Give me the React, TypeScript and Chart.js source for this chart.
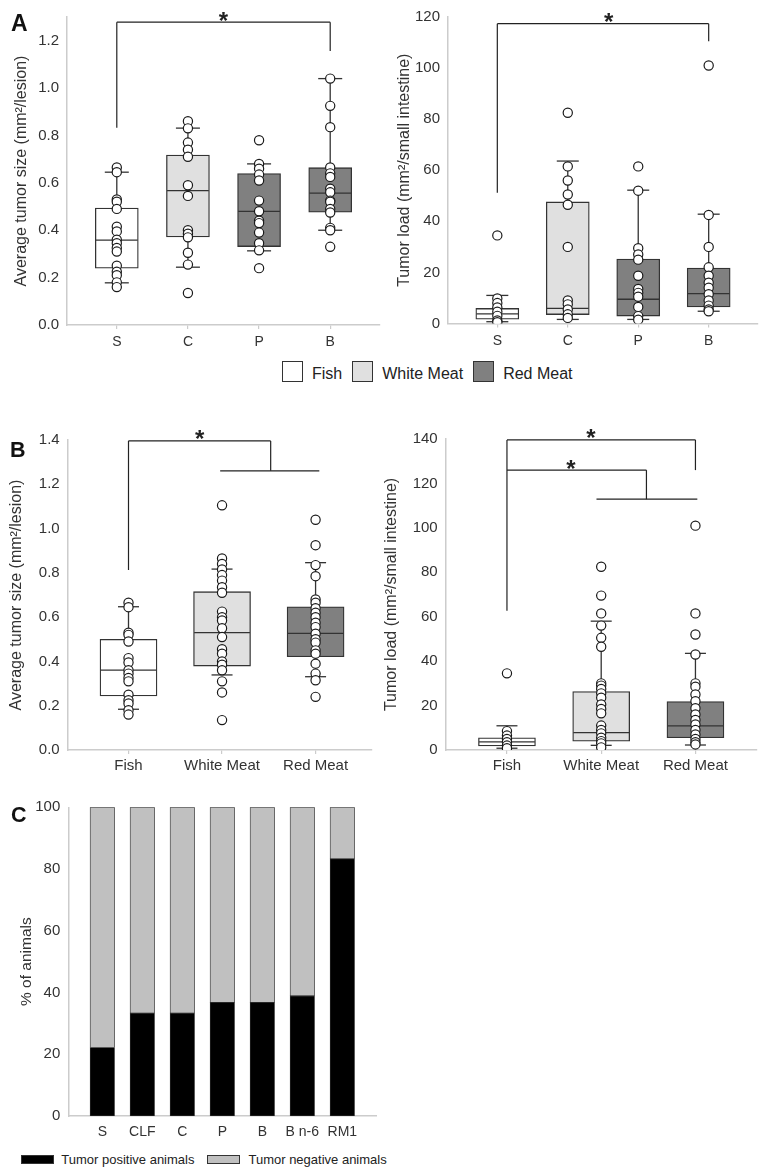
import React, { useEffect, useRef } from 'react';
import { Chart, registerables } from 'chart.js';
Chart.register(...registerables);

const FONT = '"Liberation Sans", Arial, Helvetica, sans-serif';
const TEXT = '#333333';
const AXIS = '#cccccc';
const LINE = '#333333';

// ---------------- Panel A data ----------------
const catsA = ['S', 'C', 'P', 'B'];
const colorsA = ['#ffffff', '#e0e0e0', '#808080', '#808080'];

const sizeA_S = [0.665, 0.645, 0.53, 0.52, 0.49, 0.415, 0.395, 0.36, 0.345, 0.325, 0.31, 0.25, 0.225, 0.21, 0.18, 0.16];
const sizeA_C = [0.86, 0.83, 0.77, 0.74, 0.71, 0.59, 0.545, 0.4, 0.385, 0.37, 0.305, 0.255, 0.135];
const sizeA_P = [0.78, 0.68, 0.66, 0.635, 0.61, 0.525, 0.48, 0.44, 0.43, 0.39, 0.345, 0.315, 0.24];
const sizeA_B = [1.04, 0.925, 0.835, 0.665, 0.64, 0.625, 0.575, 0.56, 0.525, 0.52, 0.49, 0.475, 0.41, 0.4, 0.33];
const sizeA_q1 = [0.24, 0.372, 0.331, 0.476];
const sizeA_med = [0.358, 0.567, 0.48, 0.557];
const sizeA_q3 = [0.494, 0.717, 0.639, 0.664];
const sizeA_lo = [0.178, 0.244, 0.313, 0.4];
const sizeA_hi = [0.645, 0.831, 0.68, 1.04];
const sizeA_ticks = [0, 0.2, 0.4, 0.6, 0.8, 1.0, 1.2];

const loadA_S = [34.5, 9.8, 8, 6.3, 4.6, 3, 1.2, 0.5];
const loadA_C = [82.5, 61.5, 56, 50.5, 46.5, 30, 9, 7.5, 5.5, 3.6, 2.2];
const loadA_P = [61.5, 52, 29.5, 27, 25, 18.7, 13.5, 12, 10.5, 6.5, 2.9, 1.5];
const loadA_B = [101, 42.5, 30, 22, 18.7, 16, 14, 11.5, 9, 7, 5.5, 4.8];
const loadA_q1 = [1.7, 3.5, 2.9, 6.5];
const loadA_med = [3.8, 5.9, 9.5, 11.7];
const loadA_q3 = [5.9, 47.6, 25.2, 21.7];
const loadA_lo = [0.7, 1.6, 1.6, 4.8];
const loadA_hi = [11.0, 63.6, 52.2, 42.8];
const loadA_ticks = [0, 20, 40, 60, 80, 100, 120];

const legendA = ['Fish', 'White Meat', 'Red Meat'];
const legendColorsA = ['#ffffff', '#e0e0e0', '#808080'];

// ---------------- Panel B data ----------------
const catsB = ['Fish', 'White Meat', 'Red Meat'];
const colorsB = ['#ffffff', '#e0e0e0', '#808080'];

const sizeB_Fish = [0.665, 0.645, 0.53, 0.52, 0.49, 0.415, 0.395, 0.36, 0.345, 0.325, 0.31, 0.25, 0.225, 0.21, 0.18, 0.16];
const sizeB_WM = [1.105, 0.865, 0.84, 0.815, 0.79, 0.765, 0.735, 0.71, 0.625, 0.6, 0.585, 0.55, 0.51, 0.455, 0.435, 0.4, 0.385, 0.36, 0.31, 0.26, 0.135];
const sizeB_RM = [1.04, 0.925, 0.835, 0.785, 0.68, 0.665, 0.64, 0.62, 0.6, 0.575, 0.555, 0.525, 0.5, 0.485, 0.45, 0.435, 0.39, 0.345, 0.315, 0.24];
const sizeB_q1 = [0.244, 0.379, 0.421];
const sizeB_med = [0.361, 0.53, 0.527];
const sizeB_q3 = [0.5, 0.715, 0.647];
const sizeB_lo = [0.184, 0.339, 0.331];
const sizeB_hi = [0.647, 0.817, 0.846];
const sizeB_ticks = [0, 0.2, 0.4, 0.6, 0.8, 1.0, 1.2, 1.4];

const loadB_Fish = [34.5, 8.5, 6.5, 5, 3.5, 2, 0.8];
const loadB_WM = [82.5, 69.5, 61.5, 56, 50.5, 46.5, 30, 29, 27.5, 25.5, 23.5, 20.5, 18.5, 16.5, 11, 9, 7.5, 5.5, 4, 3, 1.2];
const loadB_RM = [101, 61.5, 52, 43, 30, 28.5, 25, 22, 18.8, 16, 13.5, 11.5, 9, 7, 5, 3.5, 2.5];
const loadB_q1 = [1.8, 4.0, 5.5];
const loadB_med = [3.7, 7.8, 10.9];
const loadB_q3 = [5.5, 26.3, 21.8];
const loadB_lo = [0.8, 2.1, 2.25];
const loadB_hi = [10.9, 58, 43.5];
const loadB_ticks = [0, 20, 40, 60, 80, 100, 120, 140];

// ---------------- Panel C data ----------------
const catsC = ['S', 'CLF', 'C', 'P', 'B', 'B n-6', 'RM1'];
const tumorPositive = [22.2, 33.3, 33.3, 36.8, 36.8, 38.9, 83.3];
const tumorNegative = [77.8, 66.7, 66.7, 63.2, 63.2, 61.1, 16.7];
const pctTicks = [0, 20, 40, 60, 80, 100];
const legendC = ['Tumor positive animals', 'Tumor negative animals'];

// ---------------- significance annotations (data coords) ----------------
const bracketsSizeA = [[1, 0.833, 1, 1.278], [1, 1.278, 4, 1.278], [4, 1.278, 4, 1.156]];
const starsSizeA = [[2.5, 1.278]];
const bracketsLoadA = [[1, 51.2, 1, 117.4], [1, 117.4, 4, 117.4], [4, 117.4, 4, 110.5]];
const starsLoadA = [[2.58, 117.4]];
const bracketsSizeB = [[1, 0.813, 1, 1.396], [1, 1.396, 2.52, 1.396], [2.52, 1.396, 2.52, 1.261], [1.98, 1.261, 3.04, 1.261]];
const starsSizeB = [[1.76, 1.396]];
const bracketsLoadB = [[1, 62.7, 1, 139.6], [1, 139.6, 3, 139.6], [3, 139.6, 3, 126], [1, 126, 2.48, 126], [2.48, 126, 2.48, 112.9], [1.95, 112.9, 3.02, 112.9]];
const starsLoadB = [[1.89, 139.6], [1.68, 126]];

type BoxSpec = {
  cats: string[];
  colors: string[];
  points: number[][];
  q1: number[]; med: number[]; q3: number[]; lo: number[]; hi: number[];
  yMax: number; yTicks: number[]; decimals: number;
  xMin: number; xMax: number;
  boxW: number; capW: number;
  yTitle: string;
  yAxisW: number; xAxisH: number; padTop: number; padRight: number; titlePad: number;
  xFont: number; xPad: number;
  segs: number[][]; stars: number[][];
};

function makeBoxPlugin(s: BoxSpec) {
  return {
    id: 'boxExtras',
    afterDatasetDraw(chart: any, args: any) {
      if (args.index !== 0) return;
      const { ctx } = chart;
      const x = chart.scales.x, y = chart.scales.y;
      const line = (x1: number, y1: number, x2: number, y2: number) => {
        ctx.beginPath(); ctx.moveTo(x1, y1); ctx.lineTo(x2, y2); ctx.stroke();
      };
      ctx.save();
      ctx.strokeStyle = LINE;
      ctx.lineWidth = 1.3;
      s.med.forEach((m, i) => {
        const cx = x.getPixelForValue(i + 1);
        const hw = s.boxW / 2 - 0.6, cw = s.capW / 2;
        const ym = y.getPixelForValue(m);
        line(cx - hw, ym, cx + hw, ym);
        const yq3 = y.getPixelForValue(s.q3[i]), yhi = y.getPixelForValue(s.hi[i]);
        const yq1 = y.getPixelForValue(s.q1[i]), ylo = y.getPixelForValue(s.lo[i]);
        line(cx, yq3, cx, yhi);
        line(cx, yq1, cx, ylo);
        line(cx - cw, yhi, cx + cw, yhi);
        line(cx - cw, ylo, cx + cw, ylo);
      });
      ctx.restore();
    },
    afterDraw(chart: any) {
      const { ctx } = chart;
      const x = chart.scales.x, y = chart.scales.y;
      ctx.save();
      ctx.strokeStyle = '#222222';
      ctx.lineWidth = 1.2;
      s.segs.forEach(([x1, y1, x2, y2]) => {
        ctx.beginPath();
        ctx.moveTo(x.getPixelForValue(x1), y.getPixelForValue(y1));
        ctx.lineTo(x.getPixelForValue(x2), y.getPixelForValue(y2));
        ctx.stroke();
      });
      ctx.fillStyle = '#222222';
      ctx.font = `bold 24px ${FONT}`;
      ctx.textAlign = 'center';
      ctx.textBaseline = 'alphabetic';
      s.stars.forEach(([sx, sy]) => {
        ctx.fillText('*', x.getPixelForValue(sx), y.getPixelForValue(sy) + 6.5);
      });
      ctx.restore();
    },
  };
}

function boxConfig(s: BoxSpec): any {
  const boxData = s.q1.map((q, i) => ({ x: i + 1, y: [q, s.q3[i]] }));
  const pts: { x: number; y: number }[] = [];
  s.points.forEach((arr, i) => arr.forEach((v) => pts.push({ x: i + 1, y: v })));
  return {
    type: 'bar',
    data: {
      datasets: [
        {
          type: 'bar', data: boxData, backgroundColor: s.colors, borderColor: LINE,
          borderWidth: 1.3, borderSkipped: false, barThickness: s.boxW, grouped: false, order: 2,
        },
        {
          type: 'scatter', data: pts, pointRadius: 4.6, pointBorderWidth: 1.2,
          pointBackgroundColor: '#ffffff', pointBorderColor: '#1a1a1a', showLine: false, order: 1,
        },
      ],
    },
    options: {
      animation: false, responsive: false, devicePixelRatio: 1, events: [],
      layout: { padding: { top: s.padTop, right: s.padRight, left: 0, bottom: 0 } },
      plugins: { legend: { display: false }, tooltip: { enabled: false } },
      scales: {
        x: {
          type: 'linear', min: s.xMin, max: s.xMax, offset: false,
          grid: { display: true, drawOnChartArea: false, offset: false, tickLength: 4, color: AXIS, lineWidth: 1.2 },
          border: { display: true, color: AXIS, width: 1.5 },
          afterBuildTicks: (sc: any) => { sc.ticks = s.cats.map((_, i) => ({ value: i + 1 })); },
          ticks: {
            autoSkip: false, maxRotation: 0, padding: s.xPad, color: TEXT,
            font: { family: FONT, size: s.xFont },
            callback: (v: number) => s.cats[Math.round(v) - 1] ?? '',
          },
          afterFit: (sc: any) => { sc.height = s.xAxisH; },
        },
        y: {
          type: 'linear', min: 0, max: s.yMax,
          grid: { display: false, drawTicks: false },
          border: { display: true, color: AXIS, width: 1.5 },
          afterBuildTicks: (sc: any) => { sc.ticks = s.yTicks.map((v) => ({ value: v })); },
          ticks: {
            padding: 8, color: TEXT, font: { family: FONT, size: 15 },
            callback: (v: number) => v.toFixed(s.decimals),
          },
          title: {
            display: true, text: s.yTitle, color: TEXT,
            font: { family: FONT, size: 16 }, padding: { top: s.titlePad, bottom: 0 },
          },
          afterFit: (sc: any) => { sc.width = s.yAxisW; },
        },
      },
    },
    plugins: [makeBoxPlugin(s)],
  };
}

function stackConfig(): any {
  return {
    type: 'bar',
    data: {
      datasets: [
        {
          label: legendC[0], data: tumorPositive.map((v, i) => ({ x: i + 1, y: v })),
          backgroundColor: '#000000', borderColor: '#333333', borderWidth: 0.8, borderSkipped: false,
          barThickness: 24.5,
        },
        {
          label: legendC[1], data: tumorNegative.map((v, i) => ({ x: i + 1, y: v })),
          backgroundColor: '#c0c0c0', borderColor: '#333333', borderWidth: 0.8, borderSkipped: false,
          barThickness: 24.5,
        },
      ],
    },
    options: {
      animation: false, responsive: false, devicePixelRatio: 1, events: [],
      layout: { padding: { top: 17.3, right: 13.3, left: 0, bottom: 0 } },
      plugins: { legend: { display: false }, tooltip: { enabled: false } },
      scales: {
        x: {
          type: 'linear', min: 0.15, max: 7.86, offset: false, stacked: true,
          grid: { display: false, drawTicks: false, offset: false },
          border: { display: true, color: AXIS, width: 1.5 },
          afterBuildTicks: (sc: any) => { sc.ticks = catsC.map((_, i) => ({ value: i + 1 })); },
          ticks: {
            autoSkip: false, maxRotation: 0, padding: 7.3, color: TEXT,
            font: { family: FONT, size: 14 },
            callback: (v: number) => catsC[Math.round(v) - 1] ?? '',
          },
          afterFit: (sc: any) => { sc.height = 29; },
        },
        y: {
          type: 'linear', min: 0, max: 100, stacked: true,
          grid: { display: false, drawTicks: false },
          border: { display: true, color: AXIS, width: 1.5 },
          afterBuildTicks: (sc: any) => { sc.ticks = pctTicks.map((v) => ({ value: v })); },
          ticks: { padding: 8, color: TEXT, font: { family: FONT, size: 15 } },
          title: {
            display: true, text: '% of animals', color: TEXT,
            font: { family: FONT, size: 15.5 }, padding: { top: 17.4, bottom: 0 },
          },
          afterFit: (sc: any) => { sc.width = 68.3; },
        },
      },
    },
  };
}

function ChartCanvas(props: { left: number; top: number; width: number; height: number; make: () => any }) {
  const ref = useRef<HTMLCanvasElement>(null);
  useEffect(() => {
    const chart = new Chart(ref.current as HTMLCanvasElement, props.make());
    return () => chart.destroy();
  }, []);
  return (
    <canvas
      ref={ref}
      width={props.width}
      height={props.height}
      style={{ position: 'absolute', left: props.left, top: props.top, width: props.width, height: props.height }}
    />
  );
}

function PanelLabel(props: { text: string; left: number; top: number; size: number }) {
  return (
    <div style={{ position: 'absolute', left: props.left, top: props.top, fontFamily: FONT, fontWeight: 'bold', fontSize: props.size, lineHeight: `${props.size}px`, color: '#111' }}>
      {props.text}
    </div>
  );
}

const specSizeA: BoxSpec = {
  cats: catsA, colors: colorsA, points: [sizeA_S, sizeA_C, sizeA_P, sizeA_B],
  q1: sizeA_q1, med: sizeA_med, q3: sizeA_q3, lo: sizeA_lo, hi: sizeA_hi,
  yMax: 1.3, yTicks: sizeA_ticks, decimals: 1, xMin: 0.3, xMax: 4.7, boxW: 43, capW: 24,
  yTitle: 'Average tumor size (mm²/lesion)', yAxisW: 67, xAxisH: 35, padTop: 13, padRight: 10, titlePad: 12,
  xFont: 14, xPad: 5, segs: bracketsSizeA, stars: starsSizeA,
};
const specLoadA: BoxSpec = {
  cats: catsA, colors: colorsA, points: [loadA_S, loadA_C, loadA_P, loadA_B],
  q1: loadA_q1, med: loadA_med, q3: loadA_q3, lo: loadA_lo, hi: loadA_hi,
  yMax: 120, yTicks: loadA_ticks, decimals: 0, xMin: 0.3, xMax: 4.7, boxW: 43, capW: 22,
  yTitle: 'Tumor load (mm²/small intestine)', yAxisW: 68, xAxisH: 36.5, padTop: 12.7, padRight: 6, titlePad: 15.4,
  xFont: 14, xPad: 5, segs: bracketsLoadA, stars: starsLoadA,
};
const specSizeB: BoxSpec = {
  cats: catsB, colors: colorsB, points: [sizeB_Fish, sizeB_WM, sizeB_RM],
  q1: sizeB_q1, med: sizeB_med, q3: sizeB_q3, lo: sizeB_lo, hi: sizeB_hi,
  yMax: 1.4, yTicks: sizeB_ticks, decimals: 1, xMin: 0.35, xMax: 3.6, boxW: 57, capW: 21,
  yTitle: 'Average tumor size (mm²/lesion)', yAxisW: 67.7, xAxisH: 35, padTop: 40, padRight: 18.3, titlePad: 7.1,
  xFont: 15, xPad: 3, segs: bracketsSizeB, stars: starsSizeB,
};
const specLoadB: BoxSpec = {
  cats: catsB, colors: colorsB, points: [loadB_Fish, loadB_WM, loadB_RM],
  q1: loadB_q1, med: loadB_med, q3: loadB_q3, lo: loadB_lo, hi: loadB_hi,
  yMax: 140, yTicks: loadB_ticks, decimals: 0, xMin: 0.35, xMax: 3.65, boxW: 57, capW: 21,
  yTitle: 'Tumor load (mm²/small intestine)', yAxisW: 65.7, xAxisH: 35, padTop: 39, padRight: 7.3, titlePad: 2.1,
  xFont: 15, xPad: 3, segs: bracketsLoadB, stars: starsLoadB,
};

export default function App() {
  return (
    <div style={{ position: 'absolute', left: 0, top: 0, width: 764, height: 1169, background: '#ffffff', overflow: 'hidden' }}>
      <ChartCanvas left={0} top={0} width={390} height={360} make={() => boxConfig(specSizeA)} />
      <ChartCanvas left={380} top={0} width={384} height={360} make={() => boxConfig(specLoadA)} />
      <ChartCanvas left={0} top={400} width={390} height={385} make={() => boxConfig(specSizeB)} />
      <ChartCanvas left={380} top={400} width={384} height={385} make={() => boxConfig(specLoadB)} />
      <ChartCanvas left={0} top={790} width={390} height={355} make={stackConfig} />

      <PanelLabel text="A" left={11} top={12} size={23} />
      <PanelLabel text="B" left={10} top={440} size={21.5} />
      <PanelLabel text="C" left={11} top={805} size={21.5} />

      <div style={{ position: 'absolute', left: 282, top: 361, display: 'flex', alignItems: 'center', fontFamily: FONT, fontSize: 16, color: '#222', height: 21 }}>
        {legendA.map((t, i) => (
          <React.Fragment key={t}>
            <span style={{ display: 'inline-block', width: 19, height: 19, border: '1.3px solid #333', background: legendColorsA[i], marginRight: 9 }} />
            <span style={{ marginRight: 10, lineHeight: '21px', paddingTop: 3 }}>{t}</span>
          </React.Fragment>
        ))}
      </div>

      <div style={{ position: 'absolute', left: 20.7, top: 1150, display: 'flex', alignItems: 'center', fontFamily: FONT, fontSize: 13, color: '#222', height: 18 }}>
        <span style={{ display: 'inline-block', width: 31.6, height: 7, background: '#000', border: '0.8px solid #333', marginRight: 7 }} />
        <span style={{ marginRight: 12.6 }}>{legendC[0]}</span>
        <span style={{ display: 'inline-block', width: 31.4, height: 7, background: '#c0c0c0', border: '0.8px solid #333', marginRight: 8 }} />
        <span>{legendC[1]}</span>
      </div>
    </div>
  );
}
